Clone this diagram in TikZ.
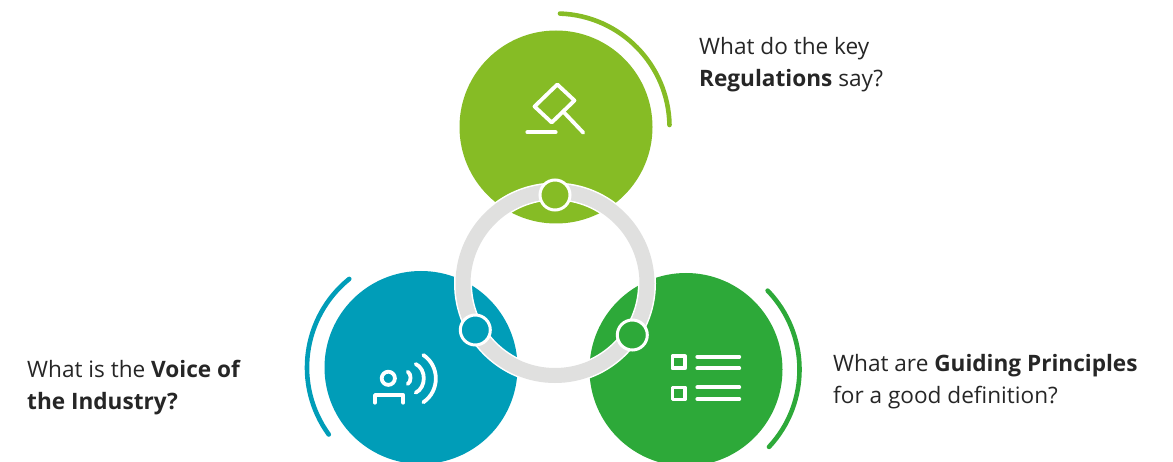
\documentclass[tikz,border=0pt]{standalone}
\usepackage{fontspec}
\setmainfont{Open Sans}
\definecolor{lime}{HTML}{86BC25}
\definecolor{teal}{HTML}{009DB8}
\definecolor{leaf}{HTML}{2DA939}
\definecolor{ringgray}{HTML}{E0E0DF}
\definecolor{ink}{HTML}{262626}
\tikzset{
  disc/.style={circle,inner sep=0pt,minimum size=193pt,fill=#1},
  dot/.style={circle,inner sep=0pt,minimum size=30pt,fill=#1,draw=white,line width=3pt},
  halo/.style={line width=#1,line cap=round},
  icon/.style={draw=white,line width=3.8pt,line cap=round,line join=round},
  label/.style={anchor=west,inner sep=0pt,align=left,text=ink,font=\fontsize{22.6}{32}\selectfont},
}
\begin{document}
\begin{tikzpicture}[x=1pt,y=-1pt]
\useasboundingbox (0,0) rectangle (1173,462);
% discs
\node[disc=lime] (reg) at (556,127) {};
\node[disc=teal] (voice) at (421,367.5) {};
\node[disc=leaf] (guide) at (686,369.5) {};
% outer arcs
\draw[lime,halo=4.6pt] (reg) ++(88:113.5pt) arc[start angle=88,end angle=1,radius=113.5pt];
\draw[teal,halo=4.6pt] (voice) ++(129:114pt) arc[start angle=129,end angle=216,radius=114pt];
\draw[leaf,halo=4.6pt] (guide) ++(44:113.5pt) arc[start angle=44,end angle=-43,radius=113.5pt];
% ring
\coordinate (ringc) at (555,283.5);
\draw[white,line width=18pt] (ringc) circle[radius=92pt];
\draw[ringgray,line width=15pt] (ringc) circle[radius=92pt];
% ring dots
\node[dot=lime] (dota) at (555,195) {};
\node[dot=teal] (dotb) at (475.3,330) {};
\node[dot=leaf] (dotc) at (632.3,335) {};
% gavel
\draw[icon] (557.3,84.5) -- (574.5,100.5) -- (551.7,122.5) -- (534.5,106.5) -- cycle;
\draw[icon] (563.3,111.7) -- (583.3,132.7);
\draw[icon] (527.3,132.3) -- (555.7,132.3);
% voice icon
\draw[icon] (388.3,378.3) circle[radius=6.6pt];
\draw[icon] (375,402.7) -- (375,395) -- (403.3,395) -- (403.3,402.7);
\draw[icon] (407.7,371.7) .. controls (411.5,373.5) and (411.5,382) .. (407.7,384);
\draw[icon] (415.7,364) .. controls (426.5,369) and (426.5,387.5) .. (415.7,392.7);
\draw[icon] (423.3,355) .. controls (440,366) and (440,391) .. (423.3,402.3);
% list icon
\draw[icon] (672.4,356.4) rectangle (685,368.4);
\draw[icon] (672.4,387.4) rectangle (685,399.4);
\draw[icon] (697.3,356.7) -- (739.3,356.7);
\draw[icon] (697.3,368.3) -- (739.3,368.3);
\draw[icon] (697.3,387.3) -- (739.3,387.3);
\draw[icon] (697.3,399) -- (739.3,399);
% labels
\node[label] (ta) at (699,65) {What do the key\\\textbf{Regulations} say?};
\node[label] (tb) at (27,388) {What is the \textbf{Voice of}\\\textbf{the Industry?}};
\node[label] (tc) at (833,382) {What are \textbf{Guiding Principles}\\for a good definition?};
\end{tikzpicture}
\end{document}
